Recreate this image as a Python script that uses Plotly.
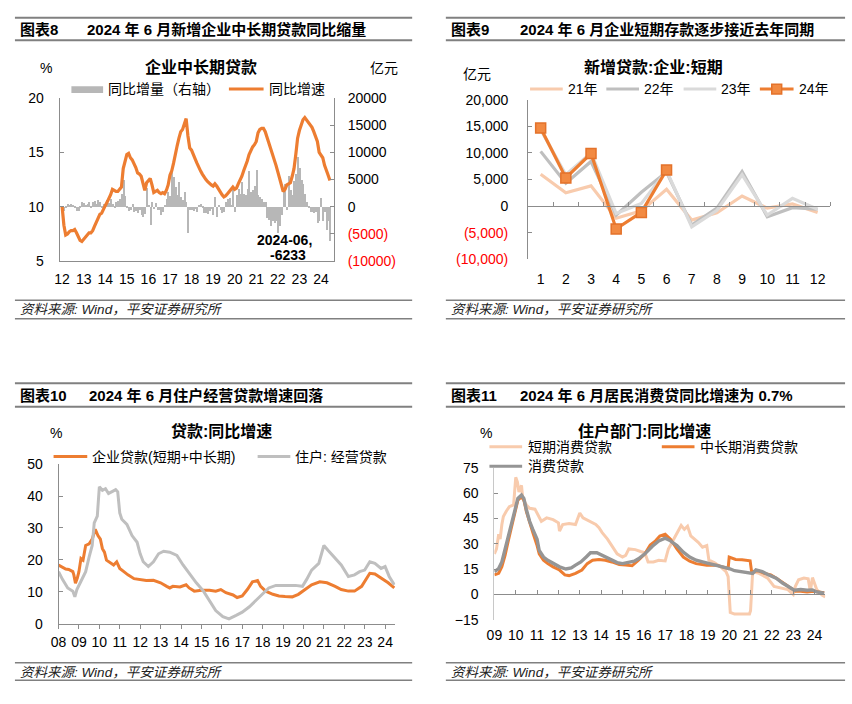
import plotly.graph_objects as go

W, H = 852, 704
def fx(px): return px / W
def fy(py): return 1 - py / H

ORANGE = '#ED7D31'
PEACH = '#F8CBAD'
GRAY = '#BFBFBF'
LGRAY = '#DADADA'
DGRAY = '#959595'
BARC = '#B7B7B7'
AX = '#8C8C8C'
RULE = '#808080'
FONT = 'Liberation Sans, Arial, Noto Sans CJK SC, sans-serif'

# ---------------- Panel 1: 企业中长期贷款 (monthly, 2012-01 .. 2024-06) ----------------
p1_n_months = 150
p1_time = [2012 + i / 12 for i in range(p1_n_months)]
p1_growth = [
    10.0, 8.3, 7.4, 7.5, 7.7, 7.8, 7.8, 7.9, 7.6, 7.2, 6.9, 6.8,
    7.0, 7.3, 7.5, 7.6, 7.6, 7.8, 8.2, 8.6, 9.0, 9.3, 9.4, 9.8,
    10.1, 10.4, 10.7, 11.1, 11.6, 11.5, 11.4, 11.4, 11.6, 11.8, 13.5, 14.2,
    14.8, 14.9, 14.5, 14.3, 14.0, 13.6, 13.1, 13.0, 12.8, 12.0, 11.5, 12.2,
    12.4, 12.6, 12.0, 11.3, 11.4, 11.5, 11.3, 11.2, 11.3, 11.2, 11.5, 12.0,
    12.9, 13.3, 14.0, 14.9, 15.6, 16.3, 16.9, 17.1, 17.6, 18.1, 16.5, 15.4,
    15.2, 14.7, 14.4, 14.0, 13.6, 13.3, 13.0, 12.7, 12.5, 12.3, 12.1, 12.0,
    11.9, 12.1, 11.9, 11.6, 11.4, 11.1, 10.9, 11.0, 11.2, 11.4, 11.6, 11.8,
    11.6, 11.7, 12.1, 12.4, 12.8, 13.3, 13.7, 14.2, 14.8, 15.2, 15.5, 15.7,
    16.0, 16.8, 17.1, 17.2, 17.2, 16.9, 16.4, 15.9, 15.5, 15.0, 14.4, 13.8,
    13.2, 12.5, 11.8, 11.4, 11.6, 12.0, 12.1, 12.2, 12.8, 13.5, 14.8, 16.3,
    17.0, 17.6, 18.0, 18.2, 18.0, 17.8, 17.6, 17.3, 16.9, 16.5, 16.0, 15.0,
    14.8, 14.5, 13.8, 13.4, 12.9, 12.4,
]
p1_yoy = [
    -500, -800, -300, 500, 400, 600, 300, -200, -700, -800, -300, 800,
    700, 400, 600, 900, -200, 800, 1000, 600, 1200, 800, -300, 600,
    300, 1200, 700, 1500, 500, -200, 900, 1000, 1500, 2400, 4900, 2000,
    -300, -800, -600, 600, -900, -700, -1200, -500, -1500, -1800, -1300, 3500,
    400, -3300, 800, -400, 700, -600, -500, -1500, -900, 300, 1500, 2700,
    2000, 6500, 5400, 3600, 2100, 4500, 1800, 1200, 2700, 900, -4800, -600,
    -500, -700, -400, -1000, 200, 500, -300, -1200, -1100, -1300, -800, -400,
    -1500, 1800, -1800, 300, -500, -1200, -1000, 900, 1500, 1700, 300, 3000,
    -900, 2100, 3300, 2400, 4500, 2400, 2100, 3300, 6500, 2700, 3000, 3900,
    6800, 2100, 1800, 1500, 900, 900, -2100, -2400, -3600, -2700, -3000, -2700,
    -4900, -3600, -1500, 2700, 4200, -600, 5700, 3000, 2100, 4800, 6000, 9200,
    7100, 5000, 4200, 2400, 900, -300, -900, -900, -1100, -1000, -3000, -2600,
    1600, -2700, -1000, -4300, -2600, -6233,
]
p1_years = list(range(2012, 2025))
p1_year_labels = [f"{y % 100:02d}" for y in p1_years]
p1_left_ticks = [5, 10, 15, 20]
p1_right_ticks = [-10000, -5000, 0, 5000, 10000, 15000, 20000]
p1_right_labels = ['(10000)', '(5000)', '0', '5000', '10000', '15000', '20000']

# ---------------- Panel 2: 新增贷款:企业:短期 ----------------
p2_months = list(range(1, 13))
p2_2021 = [6000, 2500, 3800, -2300, -900, 3150, -2650, -1260, 1900, -400, 400, -1200]
p2_2022 = [10300, 4300, 8400, -1700, 2600, 6400, -3600, -400, 6500, -2000, -300, -600]
p2_2023 = [14400, 5900, 10000, -1400, 500, 6700, -3900, -800, 5900, -1700, 1450, -600]
p2_2024 = [14700, 5300, 9900, -4300, -1200, 6800]
p2_ticks = [-10000, -5000, 0, 5000, 10000, 15000, 20000]
p2_labels = ['(10,000)', '(5,000)', '0', '5,000', '10,000', '15,000', '20,000']

# ---------------- Panel 3: 贷款:同比增速 ----------------
p3_time_corp = [2008.0, 2008.2, 2008.35, 2008.5, 2008.7, 2008.75, 2008.83, 2008.92, 2009.0, 2009.1,
                2009.2, 2009.33, 2009.5, 2009.65, 2009.8, 2009.93, 2010.05, 2010.15, 2010.25, 2010.35,
                2010.55, 2010.7, 2010.85, 2011.0, 2011.2, 2011.4, 2011.7, 2012.0, 2012.3, 2012.65,
                2013.0, 2013.3, 2013.45, 2013.6, 2013.95, 2014.25, 2014.4, 2014.65, 2015.0, 2015.4,
                2015.7, 2015.95, 2016.2, 2016.55, 2016.75, 2017.0, 2017.25, 2017.5, 2017.75, 2017.9,
                2018.15, 2018.5, 2018.8, 2019.1, 2019.45, 2019.75, 2020.1, 2020.4, 2020.8, 2021.15,
                2021.55, 2021.85, 2022.2, 2022.5, 2022.85, 2023.1, 2023.25, 2023.5, 2023.8, 2024.15,
                2024.45]
p3_corp = [18.4, 17.6, 17.1, 17.0, 16.3, 15.3, 12.7, 14.3, 16.3, 20.4,
           19.9, 24.5, 25.0, 26.5, 29.6, 27.6, 26.5, 23.5, 22.4, 19.9,
           18.9, 18.4, 19.4, 17.3, 16.3, 15.3, 14.1, 13.8, 13.5, 13.6,
           12.8, 11.7, 11.2, 11.7, 11.5, 12.2, 11.2, 10.2, 10.5, 10.5,
           10.2, 10.7, 9.7, 9.0, 8.2, 8.7, 10.7, 13.1, 13.5, 11.7,
           10.2, 9.2, 8.7, 8.5, 8.4, 9.2, 10.7, 12.2, 13.1, 12.8,
           11.7, 10.7, 10.2, 10.2, 11.7, 14.3, 15.8, 15.6, 14.3, 12.8,
           11.2]
p3_time_biz = [2008.0, 2008.2, 2008.45, 2008.7, 2008.8, 2008.9, 2009.1, 2009.33, 2009.5, 2009.65,
               2009.75, 2009.9, 2010.0, 2010.15, 2010.3, 2010.45, 2010.6, 2010.8, 2010.9, 2011.0,
               2011.1, 2011.35, 2011.6, 2011.85, 2012.0, 2012.15, 2012.4, 2012.65, 2012.9, 2013.15,
               2013.45, 2013.8, 2014.1, 2014.45, 2014.75, 2015.1, 2015.4, 2015.7, 2016.05, 2016.35,
               2016.7, 2017.0, 2017.35, 2017.65, 2018.0, 2018.3, 2018.65, 2018.95, 2019.3, 2019.6,
               2019.95, 2020.15, 2020.4, 2020.75, 2021.0, 2021.2, 2021.55, 2021.85, 2022.2, 2022.5,
               2022.75, 2023.0, 2023.25, 2023.5, 2023.8, 2024.0, 2024.2, 2024.45]
p3_biz = [16.3, 13.8, 11.2, 10.2, 8.4, 10.7, 13.3, 16.3, 20.9, 24.5,
          31.6, 33.7, 42.9, 41.8, 42.3, 40.8, 41.3, 42.0, 41.3, 34.7,
          32.7, 31.1, 27.6, 25.5, 21.9, 19.4, 17.9, 19.4, 21.9, 22.7,
          22.4, 21.4, 18.4, 15.3, 12.8, 10.2, 7.1, 4.1, 2.2, 1.5,
          2.6, 3.6, 5.3, 7.1, 9.2, 11.2, 12.0, 11.9, 12.0, 12.0,
          11.7, 13.8, 16.8, 18.9, 24.5, 23.0, 20.4, 18.4, 14.8, 15.3,
          16.3, 16.8, 19.4, 18.9, 17.3, 17.9, 14.8, 12.2]
p3_years = list(range(2008, 2025))
p3_year_labels = [f"{y % 100:02d}" for y in p3_years]

# ---------------- Panel 4: 住户部门:同比增速 ----------------
p4_time_short = [2009.0, 2009.1, 2009.2, 2009.27, 2009.35, 2009.42, 2009.55, 2009.7, 2009.9, 2010.0,
                 2010.08, 2010.15, 2010.27, 2010.33, 2010.5, 2010.65, 2010.9, 2011.05, 2011.2, 2011.45,
                 2011.75, 2012.0, 2012.05, 2012.2, 2012.5, 2012.8, 2013.0, 2013.15, 2013.45, 2013.75,
                 2013.9, 2014.05, 2014.3, 2014.5, 2014.75, 2015.0, 2015.15, 2015.3, 2015.6, 2015.85,
                 2016.05, 2016.2, 2016.45, 2016.7, 2017.0, 2017.15, 2017.4, 2017.6, 2017.75, 2017.9,
                 2018.05, 2018.2, 2018.55, 2018.75, 2018.95, 2019.05, 2019.3, 2019.6, 2019.85, 2019.95,
                 2020.05, 2020.25, 2020.55, 2020.95, 2021.0, 2021.1, 2021.4, 2021.8, 2022.1, 2022.4,
                 2022.75, 2023.0, 2023.1, 2023.25, 2023.5, 2023.7, 2023.8, 2023.9, 2024.1, 2024.35,
                 2024.5]
p4_short = [24.1, 27.0, 35.7, 32.8, 41.5, 46.3, 49.2, 52.1, 53.1, 69.5,
            66.6, 60.8, 64.7, 56.9, 53.1, 51.1, 50.6, 47.3, 43.4, 45.4,
            44.4, 42.5, 37.6, 41.5, 42.1, 41.5, 48.3, 45.4, 43.4, 41.5,
            39.6, 36.7, 32.8, 29.0, 24.1, 22.2, 23.2, 27.0, 26.6, 25.5,
            24.7, 19.3, 19.3, 20.3, 19.9, 27.0, 32.8, 36.7, 40.9, 38.6,
            40.5, 34.7, 30.9, 28.0, 29.0, 20.3, 18.9, 16.4, 13.5, 10.6,
            -10.6, -11.6, -11.6, -11.6, -9.7, 13.5, 12.5, 9.7, 4.8, 3.9,
            2.9, 0.0, 4.8, 8.7, 9.7, 9.3, 1.9, 10.0, 2.9, -0.4,
            -1.5]
p4_time_long = [2009.0, 2009.2, 2009.35, 2009.5, 2009.65, 2009.8, 2009.95, 2010.1, 2010.27, 2010.38,
                2010.5, 2010.65, 2010.8, 2011.0, 2011.1, 2011.3, 2011.5, 2011.75, 2012.05, 2012.3,
                2012.5, 2012.8, 2013.1, 2013.35, 2013.6, 2013.9, 2014.2, 2014.5, 2014.85, 2015.15,
                2015.45, 2015.75, 2016.05, 2016.3, 2016.55, 2016.75, 2017.0, 2017.25, 2017.55, 2017.85,
                2018.15, 2018.45, 2018.75, 2018.95, 2019.4, 2019.7, 2019.95, 2020.0, 2020.3, 2020.6,
                2020.85, 2020.98, 2021.05, 2021.35, 2021.65, 2021.95, 2022.25, 2022.55, 2022.85, 2023.1,
                2023.35, 2023.65, 2023.95, 2024.2, 2024.45]
p4_long = [11.6, 12.5, 16.4, 23.2, 31.8, 40.5, 49.2, 56.0, 57.9, 56.0,
           49.2, 42.5, 36.7, 29.0, 24.1, 20.3, 18.3, 16.4, 14.5, 11.6,
           11.2, 12.5, 14.5, 18.3, 20.3, 20.8, 20.3, 19.3, 17.8, 17.4,
           17.0, 20.3, 24.1, 29.3, 31.8, 34.7, 35.7, 32.8, 27.0, 22.2,
           19.7, 18.3, 17.8, 17.4, 17.4, 16.4, 15.4, 22.2, 20.8, 20.6,
           20.3, 20.0, 13.5, 14.1, 12.5, 11.6, 9.3, 6.8, 3.9, 1.9,
           1.9, 1.5, 1.9, 1.5, 1.0]
p4_time_total = [2009.0, 2009.2, 2009.35, 2009.5, 2009.65, 2009.8, 2009.95, 2010.1, 2010.27, 2010.38,
                 2010.5, 2010.65, 2010.8, 2011.0, 2011.1, 2011.3, 2011.5, 2011.75, 2012.05, 2012.35,
                 2012.6, 2012.8, 2013.05, 2013.3, 2013.5, 2013.8, 2014.05, 2014.3, 2014.5, 2014.75,
                 2015.0, 2015.3, 2015.55, 2015.75, 2016.05, 2016.4, 2016.7, 2017.0, 2017.25, 2017.55,
                 2017.85, 2018.15, 2018.45, 2018.75, 2019.1, 2019.4, 2019.7, 2020.0, 2020.25, 2020.55,
                 2020.85, 2021.1, 2021.25, 2021.55, 2021.85, 2022.2, 2022.5, 2022.8, 2023.05, 2023.35,
                 2023.65, 2023.9, 2024.1, 2024.45]
p4_total = [13.5, 15.4, 19.3, 27.0, 34.7, 42.5, 50.2, 56.9, 58.9, 56.9,
            50.2, 43.4, 38.6, 32.8, 26.1, 22.2, 20.3, 18.3, 16.4, 15.1,
            15.8, 17.4, 19.3, 22.2, 24.7, 24.7, 23.2, 21.2, 20.3, 18.9,
            18.3, 18.9, 19.7, 21.2, 24.1, 28.6, 31.8, 33.4, 31.8, 29.0,
            25.1, 22.2, 20.3, 19.3, 18.3, 17.4, 16.4, 15.4, 14.1, 13.5,
            13.1, 12.5, 14.5, 13.5, 11.6, 9.7, 6.8, 4.4, 2.5, 2.9,
            2.5, 2.7, 1.5, 0.7]
p4_years = list(range(2009, 2025))
p4_year_labels = [f"{y % 100:02d}" for y in p4_years]


def red_neg(labels):
    return [f'<span style="color:#FF0000">{t}</span>' if t.startswith('(') else t for t in labels]


fig = go.Figure()

# Panel 1
fig.add_trace(go.Bar(x=p1_time, y=p1_yoy, xaxis='x', yaxis='y', marker=dict(color=BARC, line=dict(width=0)),
                     width=0.062, showlegend=False))
fig.add_trace(go.Scatter(x=p1_time, y=p1_growth, xaxis='x', yaxis='y2', mode='lines',
                         line=dict(color=ORANGE, width=3.2), showlegend=False))
# Panel 2
for vals, col in [(p2_2021, PEACH), (p2_2022, GRAY), (p2_2023, LGRAY)]:
    fig.add_trace(go.Scatter(x=p2_months[:len(vals)], y=vals, xaxis='x2', yaxis='y3', mode='lines',
                             line=dict(color=col, width=3.2), showlegend=False))
fig.add_trace(go.Scatter(x=p2_months[:len(p2_2024)], y=p2_2024, xaxis='x2', yaxis='y3', mode='lines+markers',
                         line=dict(color=ORANGE, width=3.2),
                         marker=dict(symbol='square', size=10, color='#F28A42', line=dict(color='#E4722A', width=1.5)),
                         showlegend=False))
# Panel 3
fig.add_trace(go.Scatter(x=p3_time_corp, y=p3_corp, xaxis='x3', yaxis='y4', mode='lines',
                         line=dict(color=ORANGE, width=3), showlegend=False))
fig.add_trace(go.Scatter(x=p3_time_biz, y=p3_biz, xaxis='x3', yaxis='y4', mode='lines',
                         line=dict(color=GRAY, width=3), showlegend=False))
# Panel 4
fig.add_trace(go.Scatter(x=p4_time_short, y=p4_short, xaxis='x4', yaxis='y5', mode='lines',
                         line=dict(color=PEACH, width=3), showlegend=False))
fig.add_trace(go.Scatter(x=p4_time_long, y=p4_long, xaxis='x4', yaxis='y5', mode='lines',
                         line=dict(color=ORANGE, width=3), showlegend=False))
fig.add_trace(go.Scatter(x=p4_time_total, y=p4_total, xaxis='x4', yaxis='y5', mode='lines',
                         line=dict(color=DGRAY, width=3.4), showlegend=False))

tickfont = dict(family=FONT, size=14, color='#000000')
common = dict(showgrid=False, zeroline=False, tickfont=tickfont, linecolor=AX, linewidth=1, tickcolor=AX)

# zero-line paper positions for panels 2 and 4
p2_y0, p2_y1 = fy(257), fy(94)
p2_zero = p2_y0 + (0 - (-10000)) / 30000 * (p2_y1 - p2_y0)
p4_y0, p4_y1 = fy(626), fy(470.7)
p4_zero = p4_y0 + (0 - (-15)) / 90 * (p4_y1 - p4_y0)

fig.update_layout(
    width=W, height=H, margin=dict(l=0, r=0, t=0, b=0),
    paper_bgcolor='white', plot_bgcolor='white', hovermode=False, showlegend=False,
    bargap=0,
    font=dict(family=FONT, size=14, color='#000000'),
    # Panel 1
    xaxis=dict(domain=[fx(52), fx(329)], anchor='y', range=[2011.88, 2024.6], tickmode='array',
               tickvals=p1_years, ticktext=p1_year_labels, ticks='', showline=True,
               ticklabelstandoff=5, **common),
    yaxis=dict(domain=[fy(259), fy(92)], anchor='x', side='right', range=[-10000, 20000], tickmode='array',
               tickvals=p1_right_ticks, ticktext=red_neg(p1_right_labels), ticks='inside', ticklen=4,
               showline=True, ticklabelstandoff=10, **common),
    yaxis2=dict(overlaying='y', anchor='x', side='left', range=[5, 20], tickmode='array',
                tickvals=p1_left_ticks, ticks='inside', ticklen=4, showline=True,
                ticklabelstandoff=12, **common),
    # Panel 2
    xaxis2=dict(domain=[fx(525), fx(830)], anchor='free', position=p2_zero, range=[0.5, 12.5],
                tickmode='array', tickvals=p2_months, ticks='', showline=True,
                minor=dict(tickmode='array', tickvals=[m + 0.5 for m in p2_months], ticks='inside',
                           ticklen=4, tickcolor=AX),
                ticklabelstandoff=60, **common),
    yaxis3=dict(domain=[p2_y0, p2_y1], anchor='x2', range=[-10000, 20000], tickmode='array',
                tickvals=p2_ticks, ticktext=red_neg(p2_labels), ticks='inside', ticklen=4,
                showline=True, ticklabelstandoff=16, **common),
    # Panel 3
    xaxis3=dict(domain=[fx(51), fx(391)], anchor='y4', range=[2008.0, 2024.5], tickmode='array',
                tickvals=p3_years, ticktext=p3_year_labels, ticks='outside', ticklen=4, showline=True,
                ticklabelstandoff=2, **common),
    yaxis4=dict(domain=[fy(630), fy(466.7)], anchor='x3', range=[0, 50], tickmode='array',
                tickvals=[0, 10, 20, 30, 40, 50], ticks='inside', ticklen=4, showline=True,
                ticklabelstandoff=12, **common),
    # Panel 4
    xaxis4=dict(domain=[fx(491), fx(825)], anchor='free', position=p4_zero, range=[2009.0, 2024.5],
                tickmode='array', tickvals=p4_years, ticktext=p4_year_labels, ticks='inside', ticklen=4,
                showline=True, ticklabelstandoff=28, **common),
    yaxis5=dict(domain=[p4_y0, p4_y1], anchor='x4', range=[-15, 75], tickmode='array',
                tickvals=[-15, 0, 15, 30, 45, 60, 75], ticks='inside', ticklen=4, showline=True,
                ticklabelstandoff=12, **{**common, 'linecolor': '#C8C8C8'}),
)

shapes = []
def hline(x0, x1, y, color=RULE, width=2):
    shapes.append(dict(type='line', xref='paper', yref='paper', x0=fx(x0), x1=fx(x1), y0=fy(y), y1=fy(y),
                       line=dict(color=color, width=width)))

# header / footer rules
for (xa, xb) in [(7, 408), (442, 845)]:
    hline(xa, xb, 10); hline(xa, xb, 33)
    hline(xa, xb, 299, width=1.5); hline(xa, xb, 318, width=1.5)
    hline(xa, xb, 384); hline(xa, xb, 408)
    hline(xa, xb, 670, width=1.5); hline(xa, xb, 688, width=1.5)

# legend swatches
shapes.append(dict(type='rect', xref='paper', yref='paper', x0=fx(64), x1=fx(96), y0=fy(87), y1=fy(80),
                   fillcolor=BARC, line=dict(width=0)))
hline(223, 258, 83, ORANGE, 3)
hline(527, 560, 83, PEACH, 3)
hline(604, 637, 83, GRAY, 3)
hline(682, 715, 83, LGRAY, 3)
hline(759, 793, 83, ORANGE, 3)
shapes.append(dict(type='rect', xref='paper', yref='paper', x0=fx(771), x1=fx(781), y0=fy(88), y1=fy(78),
                   fillcolor='#F28A42', line=dict(color='#E4722A', width=1.5)))
hline(46, 80, 459, ORANGE, 3)
hline(252, 285, 459, GRAY, 3)
hline(486, 519, 449, PEACH, 3)
hline(660, 693, 449, ORANGE, 3)
hline(486, 519, 469, DGRAY, 3)

annotations = []
def txt(s, x, y, size=14, anchor='left', bold=False, italic=False, color='#000000'):
    if bold:
        s = f'<b>{s}</b>'
    if italic:
        s = f'<i>{s}</i>'
    annotations.append(dict(text=s, x=fx(x), y=fy(y), xref='paper', yref='paper', showarrow=False,
                            xanchor=anchor, yanchor='middle', font=dict(family=FONT, size=size, color=color)))

# headers
txt('图表8', 10, 22, 15, bold=True)
txt('2024 年 6 月新增企业中长期贷款同比缩量', 78, 22, 15, bold=True)
txt('图表9', 445, 22, 15, bold=True)
txt('2024 年 6 月企业短期存款逐步接近去年同期', 515, 22, 15, bold=True)
txt('图表10', 10, 396, 15, bold=True)
txt('2024 年 6 月住户经营贷款增速回落', 80, 396, 15, bold=True)
txt('图表11', 445, 396, 15, bold=True)
txt('2024 年 6 月居民消费贷同比增速为 0.7%', 515, 396, 15, bold=True)
# chart titles
txt('企业中长期贷款', 195, 60, 16, 'center', bold=True)
txt('新增贷款:企业:短期', 652, 60, 16, 'center', bold=True)
txt('贷款:同比增速', 216, 433, 16, 'center', bold=True)
txt('住户部门:同比增速', 643, 433, 16, 'center', bold=True)
# units
txt('%', 38, 61, 14, 'center')
txt('亿元', 380, 61, 14, 'center')
txt('亿元', 473, 68, 14, 'center')
txt('%', 48, 435, 14, 'center')
txt('%', 483, 435, 14, 'center')
# legend labels
txt('同比增量（右轴）', 99, 83, 14)
txt('同比增速', 261, 83, 14)
txt('21年', 563, 83, 14)
txt('22年', 640, 83, 14)
txt('23年', 718, 83, 14)
txt('24年', 796, 83, 14)
txt('企业贷款(短期+中长期)', 83, 459, 14)
txt('住户: 经营贷款', 288, 459, 14)
txt('短期消费贷款', 523, 449, 14)
txt('中长期消费贷款', 697, 449, 14)
txt('消费贷款', 523, 469, 14)
# data label
txt('2024-06,', 279, 237, 14, 'center', bold=True)
txt(f'{p1_yoy[-1]}', 283, 253, 14, 'center', bold=True)
# sources
for (x, y) in [(10, 309), (445, 309), (10, 680), (445, 680)]:
    txt('资料来源: Wind，平安证券研究所', x, y, 13.5, italic=True, color='#222222')

fig.update_layout(shapes=shapes, annotations=annotations)
fig.write_html('out.html', config={'displayModeBar': False},
               post_script="document.body.style.margin='0px';document.body.style.overflow='hidden';")
